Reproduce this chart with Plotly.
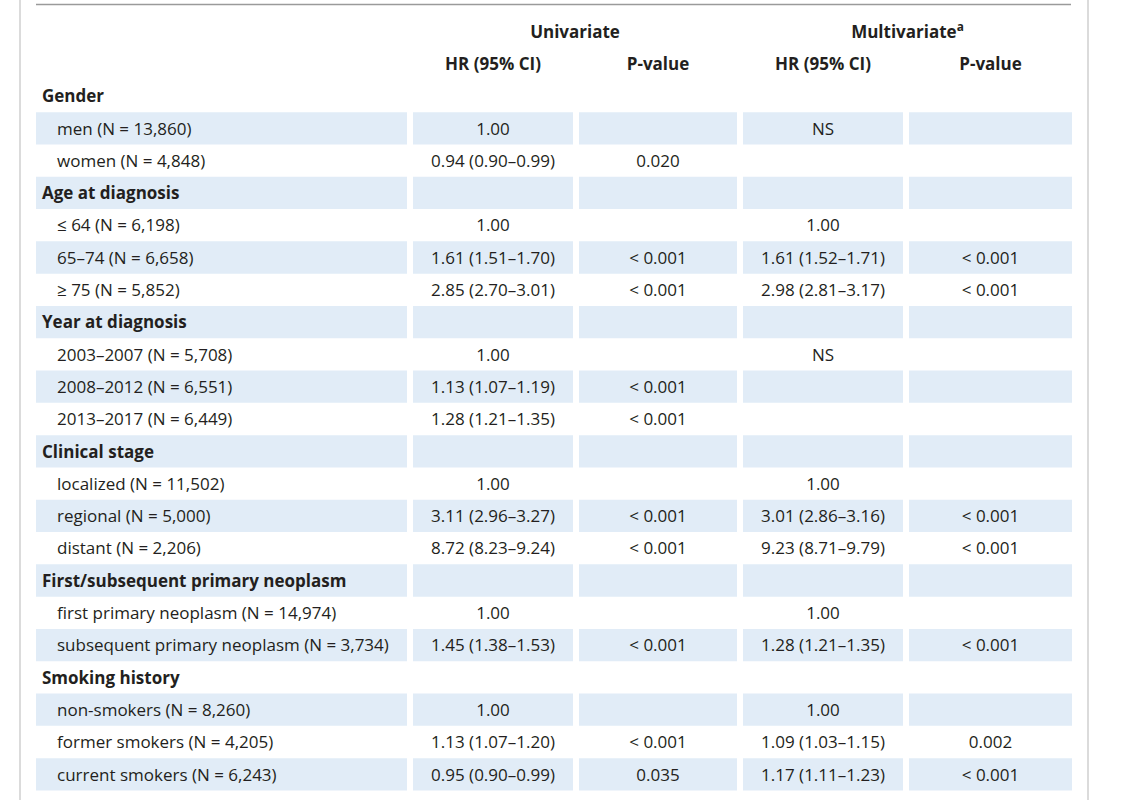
import plotly.graph_objects as go

row_labels = [
    "Gender", "men (N = 13,860)", "women (N = 4,848)",
    "Age at diagnosis", "≤ 64 (N = 6,198)", "65–74 (N = 6,658)", "≥ 75 (N = 5,852)",
    "Year at diagnosis", "2003–2007 (N = 5,708)", "2008–2012 (N = 6,551)", "2013–2017 (N = 6,449)",
    "Clinical stage", "localized (N = 11,502)", "regional (N = 5,000)", "distant (N = 2,206)",
    "First/subsequent primary neoplasm", "first primary neoplasm (N = 14,974)",
    "subsequent primary neoplasm (N = 3,734)",
    "Smoking history", "non-smokers (N = 8,260)", "former smokers (N = 4,205)",
    "current smokers (N = 6,243)",
]
is_group = [True, False, False, True, False, False, False, True, False, False, False,
            True, False, False, False, True, False, False, True, False, False, False]
uni_hr = ["", "1.00", "0.94 (0.90–0.99)", "", "1.00", "1.61 (1.51–1.70)", "2.85 (2.70–3.01)",
          "", "1.00", "1.13 (1.07–1.19)", "1.28 (1.21–1.35)", "", "1.00", "3.11 (2.96–3.27)",
          "8.72 (8.23–9.24)", "", "1.00", "1.45 (1.38–1.53)", "", "1.00", "1.13 (1.07–1.20)",
          "0.95 (0.90–0.99)"]
uni_p = ["", "", "0.020", "", "", "< 0.001", "< 0.001", "", "", "< 0.001", "< 0.001", "", "",
         "< 0.001", "< 0.001", "", "", "< 0.001", "", "", "< 0.001", "0.035"]
multi_hr = ["", "NS", "", "", "1.00", "1.61 (1.52–1.71)", "2.98 (2.81–3.17)", "", "NS", "", "",
            "", "1.00", "3.01 (2.86–3.16)", "9.23 (8.71–9.79)", "", "1.00", "1.28 (1.21–1.35)",
            "", "1.00", "1.09 (1.03–1.15)", "1.17 (1.11–1.23)"]
multi_p = ["", "", "", "", "", "< 0.001", "< 0.001", "", "", "", "", "", "", "< 0.001",
           "< 0.001", "", "", "< 0.001", "", "", "0.002", "< 0.001"]
col_headers = ["HR (95% CI)", "P-value", "HR (95% CI)", "P-value"]
group_headers = ["Univariate", "Multivariate<sup>a</sup>"]

# ---- layout / style (pixel-like axis units) ----
W, H = 1130, 800
FONT = "Open Sans"
FS = 17
TXT = "#231f20"
SHADE = "#e1ecf7"
ROW_PX = 32.3
FIRST_ROW_PX = 96          # centre of first data row
TEXT_DY = 2 / ROW_PX       # small downward nudge of text baseline
col_px = [(36, 407), (413, 573), (579, 737), (743, 903), (909, 1072)]
GROUP_X = 42
SUB_X = 57

n = len(row_labels)
rows = list(range(n))
y_top = -FIRST_ROW_PX / ROW_PX
y_bot = (H - FIRST_ROW_PX) / ROW_PX

fig = go.Figure()

# shaded cells
shapes = []
for r in rows:
    if r % 2 == 1:
        for x0, x1 in col_px:
            shapes.append(dict(type="rect", xref="x", yref="y", x0=x0, x1=x1,
                               y0=r - 0.5, y1=r + 0.5, fillcolor=SHADE,
                               line=dict(width=0), layer="below"))

# frame lines
shapes += [
    dict(type="line", xref="x", yref="paper", x0=36, x1=1071, y0=1 - 4.5 / H,
         y1=1 - 4.5 / H, line=dict(color="#9a9a9a", width=1.5)),
    dict(type="line", xref="x", yref="paper", x0=20, x1=20, y0=0, y1=1,
         line=dict(color="#cfcfcf", width=1.5)),
    dict(type="line", xref="x", yref="paper", x0=1088, x1=1088, y0=0, y1=1,
         line=dict(color="#cfcfcf", width=1.5)),
]

font = dict(family=FONT, size=FS, color=TXT)

# first column: row labels
grp_rows = [r for r in rows if is_group[r]]
sub_rows = [r for r in rows if not is_group[r]]
fig.add_trace(go.Scatter(x=[GROUP_X] * len(grp_rows), y=[r + TEXT_DY for r in grp_rows],
                         mode="text", text=[f"<b>{row_labels[r]}</b>" for r in grp_rows],
                         textposition="middle right", textfont=font, hoverinfo="skip"))
fig.add_trace(go.Scatter(x=[SUB_X] * len(sub_rows), y=[r + TEXT_DY for r in sub_rows],
                         mode="text", text=[row_labels[r] for r in sub_rows],
                         textposition="middle right", textfont=font, hoverinfo="skip"))

# value columns
for vals, (x0, x1) in zip([uni_hr, uni_p, multi_hr, multi_p], col_px[1:]):
    xc = (x0 + x1) / 2
    keep = [r for r in rows if vals[r]]
    fig.add_trace(go.Scatter(x=[xc] * len(keep), y=[r + TEXT_DY for r in keep], mode="text",
                             text=[vals[r] for r in keep],
                             textposition="middle center", textfont=font, hoverinfo="skip"))

# column headers
fig.add_trace(go.Scatter(x=[(a + b) / 2 for a, b in col_px[1:]], y=[-1 + TEXT_DY] * 4,
                         mode="text", text=[f"<b>{h}</b>" for h in col_headers],
                         textposition="middle center", textfont=font, hoverinfo="skip"))
fig.add_trace(go.Scatter(x=[(col_px[1][0] + col_px[2][1]) / 2, (col_px[3][0] + col_px[4][1]) / 2],
                         y=[-2 + TEXT_DY, -2 + TEXT_DY], mode="text",
                         text=[f"<b>{h}</b>" for h in group_headers],
                         textposition="middle center", textfont=font, hoverinfo="skip"))

fig.update_layout(
    width=W, height=H, margin=dict(l=0, r=0, t=0, b=0),
    paper_bgcolor="white", plot_bgcolor="white", showlegend=False,
    shapes=shapes,
    xaxis=dict(range=[0, W], visible=False, fixedrange=True),
    yaxis=dict(range=[y_bot, y_top], visible=False, fixedrange=True),
)
fig.write_html("out.html", config={"displayModeBar": False},
               post_script="document.body.style.margin='0px';document.body.style.overflow='hidden';")
